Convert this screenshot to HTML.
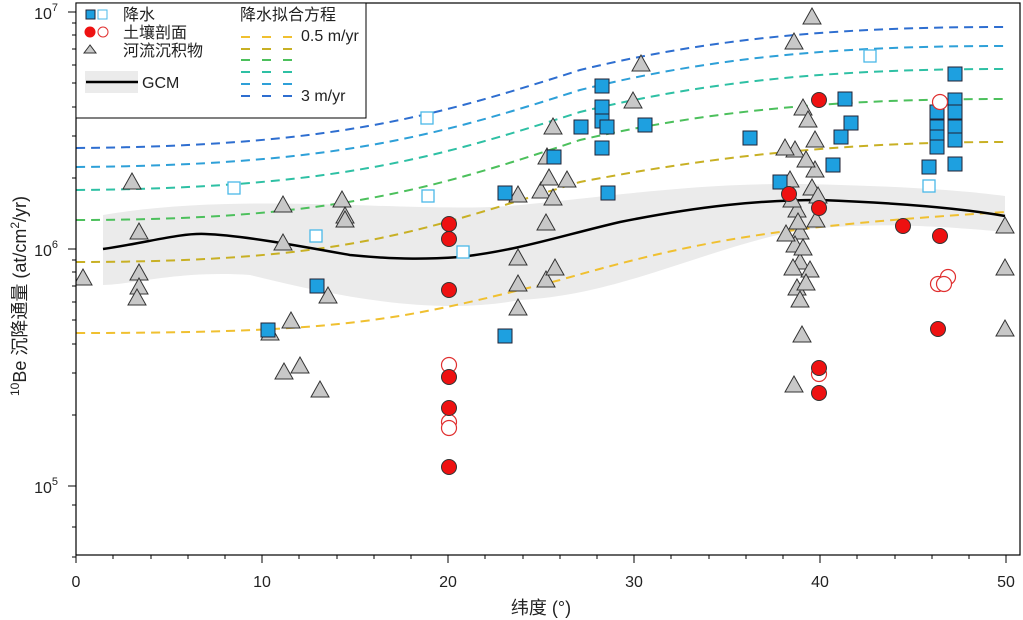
<!DOCTYPE html>
<html><head><meta charset="utf-8"><style>body{margin:0;background:#fff}svg{display:block;font-family:"Liberation Sans","Noto Sans CJK SC",sans-serif}</style></head><body>
<svg width="1023" height="620" viewBox="0 0 1023 620">
<defs>
<clipPath id="c"><rect x="76" y="3" width="944" height="552"/></clipPath>
<polygon id="t" points="0,-9 -9,7 9,7" fill="#c8c8c8" stroke="#333" stroke-width="1"/>
<rect id="b" x="-7" y="-7" width="14" height="14" fill="#1ea0e0" stroke="#223"/>
<rect id="h" x="-6" y="-6" width="12" height="12" fill="#fff" stroke="#4ab8e8" stroke-width="1.3"/>
<circle id="r" r="7.5" fill="#ee1111" stroke="#333"/>
<circle id="o" r="7.5" fill="#fff" stroke="#e03030" stroke-width="1.2"/>
</defs>
<g clip-path="url(#c)">
<path d="M103,215 C250,190 420,215 520,205 C620,195 700,183 800,184 C900,186 960,190 1005,196 L1005,232 C900,222 850,225 800,230 C700,250 620,295 520,300 C440,315 350,300 250,275 C180,270 130,285 103,285 Z" fill="#ebebeb"/>
<g fill="none" stroke-width="2" stroke-dasharray="9,6">
<path d="M76,333 C350,333 400,320 560,280 C700,240 780,226 1005,212" stroke="#f0c030"/>
<path d="M76,262 C350,262 420,230 580,182 C720,155 850,142 1005,142" stroke="#c8b024"/>
<path d="M76,220 C330,220 430,190 580,140 C720,108 850,99 1005,99" stroke="#4cc05c"/>
<path d="M76,190 C330,188 430,160 580,112 C720,78 850,69 1005,69" stroke="#2ec0a4"/>
<path d="M76,167 C330,165 430,138 580,90 C720,55 850,46 1005,46" stroke="#2ea0d8"/>
<path d="M76,148 C330,146 430,118 580,70 C720,36 850,27 1005,27" stroke="#2e6ed0"/>
</g>
<path d="M103,249 C150,242 180,233 205,234 C240,235 300,246 350,255 C400,260 430,259 460,257 C520,250 560,236 620,222 C700,206 760,200 820,200 C900,203 960,208 1005,216" fill="none" stroke="#000" stroke-width="2.5"/>
<use href="#t" x="83" y="278"/><use href="#t" x="132" y="182"/><use href="#t" x="139" y="232"/><use href="#t" x="139" y="273"/><use href="#t" x="139" y="287"/><use href="#t" x="137" y="298"/><use href="#t" x="283" y="205"/><use href="#t" x="283" y="243"/><use href="#t" x="270" y="333"/><use href="#t" x="291" y="321"/><use href="#t" x="284" y="372"/><use href="#t" x="300" y="366"/><use href="#t" x="320" y="390"/><use href="#t" x="328" y="296"/><use href="#t" x="342" y="200"/><use href="#t" x="345" y="216"/><use href="#t" x="345" y="220"/><use href="#t" x="518" y="195"/><use href="#t" x="518" y="258"/><use href="#t" x="518" y="284"/><use href="#t" x="518" y="308"/><use href="#t" x="541" y="191"/><use href="#t" x="546" y="280"/><use href="#t" x="546" y="223"/><use href="#t" x="553" y="127"/><use href="#t" x="547" y="157"/><use href="#t" x="549" y="178"/><use href="#t" x="553" y="198"/><use href="#t" x="555" y="268"/><use href="#t" x="567" y="180"/><use href="#t" x="633" y="101"/><use href="#t" x="641" y="64"/><use href="#t" x="794" y="42"/><use href="#t" x="812" y="17"/><use href="#t" x="803" y="108"/><use href="#t" x="795" y="150"/><use href="#t" x="790" y="180"/><use href="#t" x="797" y="210"/><use href="#t" x="800" y="232"/><use href="#t" x="795" y="245"/><use href="#t" x="800" y="262"/><use href="#t" x="793" y="268"/><use href="#t" x="797" y="288"/><use href="#t" x="800" y="300"/><use href="#t" x="794" y="385"/><use href="#t" x="802" y="335"/><use href="#t" x="785" y="148"/><use href="#t" x="808" y="120"/><use href="#t" x="815" y="170"/><use href="#t" x="812" y="188"/><use href="#t" x="816" y="220"/><use href="#t" x="806" y="160"/><use href="#t" x="792" y="200"/><use href="#t" x="803" y="248"/><use href="#t" x="810" y="270"/><use href="#t" x="798" y="222"/><use href="#t" x="815" y="140"/><use href="#t" x="818" y="196"/><use href="#t" x="786" y="234"/><use href="#t" x="806" y="283"/><use href="#t" x="1005" y="226"/><use href="#t" x="1005" y="268"/><use href="#t" x="1005" y="329"/>
</g>
<use href="#b" x="268" y="330"/><use href="#b" x="317" y="286"/><use href="#b" x="505" y="336"/><use href="#b" x="505" y="193"/><use href="#b" x="554" y="157"/><use href="#b" x="581" y="127"/><use href="#b" x="602" y="86"/><use href="#b" x="602" y="107"/><use href="#b" x="602" y="121"/><use href="#b" x="607" y="127"/><use href="#b" x="602" y="148"/><use href="#b" x="645" y="125"/><use href="#b" x="608" y="193"/><use href="#b" x="750" y="138"/><use href="#b" x="780" y="182"/><use href="#b" x="845" y="99"/><use href="#b" x="851" y="123"/><use href="#b" x="841" y="137"/><use href="#b" x="833" y="165"/><use href="#b" x="937" y="112"/><use href="#b" x="937" y="127"/><use href="#b" x="937" y="137"/><use href="#b" x="937" y="147"/><use href="#b" x="955" y="74"/><use href="#b" x="955" y="100"/><use href="#b" x="955" y="112"/><use href="#b" x="955" y="127"/><use href="#b" x="955" y="140"/><use href="#b" x="955" y="164"/><use href="#b" x="929" y="167"/>
<use href="#h" x="234" y="188"/><use href="#h" x="427" y="118"/><use href="#h" x="428" y="196"/><use href="#h" x="316" y="236"/><use href="#h" x="463" y="252"/><use href="#h" x="870" y="56"/><use href="#h" x="929" y="186"/>
<use href="#o" x="449" y="365"/><use href="#o" x="449" y="422"/><use href="#o" x="449" y="428"/><use href="#o" x="819" y="374"/><use href="#o" x="940" y="102"/><use href="#o" x="938" y="284"/><use href="#o" x="948" y="277"/><use href="#o" x="944" y="284"/>
<use href="#r" x="449" y="224"/><use href="#r" x="449" y="239"/><use href="#r" x="449" y="290"/><use href="#r" x="449" y="377"/><use href="#r" x="449" y="408"/><use href="#r" x="449" y="467"/><use href="#r" x="789" y="194"/><use href="#r" x="819" y="100"/><use href="#r" x="819" y="208"/><use href="#r" x="819" y="368"/><use href="#r" x="819" y="393"/><use href="#r" x="903" y="226"/><use href="#r" x="940" y="236"/><use href="#r" x="938" y="329"/>
<rect x="76" y="3" width="944" height="552" fill="none" stroke="#000" stroke-width="1.2"/>
<g stroke="#000" stroke-width="1">
<path d="M76,555v8M113,555v4M151,555v4M188,555v4M225,555v4M262,555v8M299,555v4M337,555v4M374,555v4M411,555v4M448,555v8M485,555v4M523,555v4M560,555v4M597,555v4M634,555v8M671,555v4M709,555v4M746,555v4M783,555v4M820,555v8M857,555v4M895,555v4M932,555v4M969,555v4M1006,555v8"/>
<path d="M76,12h-8M76,249h-8M76,486h-8M76,557h-4M76,527h-4M76,505h-4M76,415h-4M76,373h-4M76,344h-4M76,320h-4M76,302h-4M76,286h-4M76,272h-4M76,260h-4M76,178h-4M76,136h-4M76,107h-4M76,83h-4M76,65h-4M76,49h-4M76,35h-4M76,23h-4"/>
</g>
<g font-size="16" fill="#222" text-anchor="middle">
<text x="76" y="587">0</text><text x="262" y="587">10</text><text x="448" y="587">20</text><text x="634" y="587">30</text><text x="820" y="587">40</text><text x="1006" y="587">50</text>
<text x="541" y="614" font-size="18">纬度 (°)</text>
</g>
<g font-size="16" fill="#222" text-anchor="end">
<text x="58" y="19">10<tspan font-size="11" dy="-8">7</tspan></text>
<text x="58" y="256">10<tspan font-size="11" dy="-8">6</tspan></text>
<text x="58" y="493">10<tspan font-size="11" dy="-8">5</tspan></text>
</g>
<text transform="translate(26,296) rotate(-90)" text-anchor="middle" font-size="18" fill="#222"><tspan font-size="12" dy="-7">10</tspan><tspan dy="7">Be 沉降通量 (at/cm</tspan><tspan font-size="12" dy="-7">2</tspan><tspan dy="7">/yr)</tspan></text>
<rect x="76" y="3" width="290" height="115" fill="#fff" stroke="#000" stroke-width="1"/>
<rect x="86" y="10" width="9" height="9" fill="#1ea0e0" stroke="#223"/><rect x="98" y="10" width="9" height="9" fill="#fff" stroke="#4ab8e8"/>
<circle cx="90" cy="32" r="5.5" fill="#ee1111"/><circle cx="103" cy="32" r="5" fill="#fff" stroke="#e03030"/>
<polygon points="90,45 84,53 96,53" fill="#c8c8c8" stroke="#333"/>
<rect x="85" y="71" width="53" height="22" fill="#ebebeb"/><path d="M86,82h52" stroke="#000" stroke-width="2.5"/>
<g font-size="16" fill="#222">
<text x="123" y="20">降水</text><text x="123" y="38">土壤剖面</text><text x="123" y="56">河流沉积物</text><text x="142" y="88">GCM</text>
<text x="240" y="20">降水拟合方程</text><text x="301" y="41">0.5 m/yr</text><text x="301" y="101">3 m/yr</text>
</g>
<g stroke-width="2" stroke-dasharray="9,12">
<path d="M241,37h55" stroke="#f0c030"/><path d="M241,49h55" stroke="#c8b024"/><path d="M241,60h55" stroke="#4cc05c"/><path d="M241,72h55" stroke="#2ec0a4"/><path d="M241,84h55" stroke="#2ea0d8"/><path d="M241,96h55" stroke="#2e6ed0"/>
</g>
</svg>
</body></html>
